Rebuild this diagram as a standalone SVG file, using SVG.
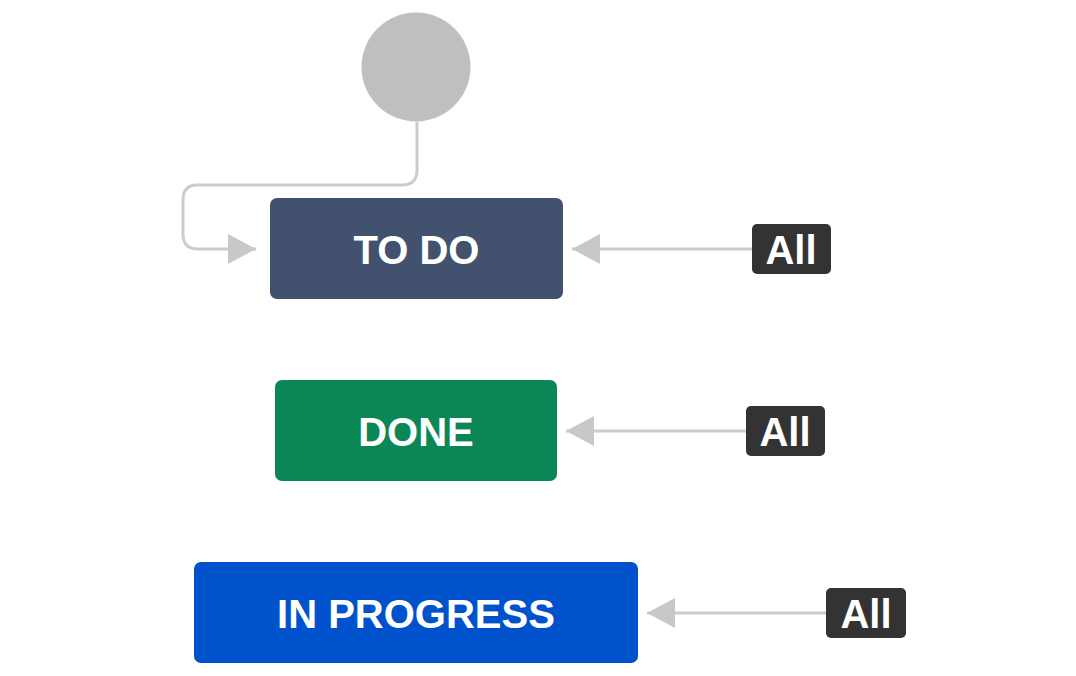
<svg xmlns="http://www.w3.org/2000/svg" width="1076" height="676" viewBox="0 0 1076 676">
  <defs>
    <marker id="arrow" markerUnits="userSpaceOnUse" markerWidth="32" markerHeight="34" refX="30" refY="17" orient="auto">
      <path d="M2,2 L30,17 L2,32 Z" fill="#c8c8c8"/>
    </marker>
    <style>
      .edge { fill: none; stroke: #cccccc; stroke-width: 3; }
      .status { stroke: none; }
      .label { font-family: "Liberation Sans", Arial, sans-serif; font-weight: bold; font-size: 40px; fill: #ffffff; text-anchor: middle; }
      .badge { fill: #333333; }
    </style>
  </defs>
  <rect width="1076" height="676" fill="#ffffff"/>

  <!-- transitions -->
  <g id="connectors">
    <path class="edge" d="M417,122 L417,170 Q417,185 402,185 L197,185 Q183,185 183,200 L183,234 Q183,249 198,249 L256,249" marker-end="url(#arrow)"/>
    <path class="edge" d="M752,249 L572,249" marker-end="url(#arrow)"/>
    <path class="edge" d="M746,431 L566,431" marker-end="url(#arrow)"/>
    <path class="edge" d="M826,613 L647,613" marker-end="url(#arrow)"/>
  </g>

  <!-- initial state -->
  <g id="start">
    <circle cx="416" cy="67" r="54.5" fill="#bfbfbf"/>
  </g>

  <!-- statuses -->
  <g id="todo">
    <rect class="status" x="270" y="198" width="293" height="101" rx="7" fill="#42526e"/>
    <text class="label" x="416.5" y="264">TO DO</text>
  </g>
  <g id="done">
    <rect class="status" x="275" y="380" width="282" height="101" rx="7" fill="#0a8754"/>
    <text class="label" x="416" y="446">DONE</text>
  </g>
  <g id="inprogress">
    <rect class="status" x="194" y="562" width="444" height="101" rx="7" fill="#0052cc"/>
    <text class="label" x="416" y="628">IN PROGRESS</text>
  </g>

  <!-- global transition badges -->
  <g id="all-todo">
    <rect class="badge" x="752" y="224" width="79" height="50" rx="5"/>
    <text class="label" x="791" y="264">All</text>
  </g>
  <g id="all-done">
    <rect class="badge" x="746" y="406" width="79" height="50" rx="5"/>
    <text class="label" x="785" y="446">All</text>
  </g>
  <g id="all-inprogress">
    <rect class="badge" x="826" y="588" width="80" height="50" rx="5"/>
    <text class="label" x="866" y="628">All</text>
  </g>
</svg>
